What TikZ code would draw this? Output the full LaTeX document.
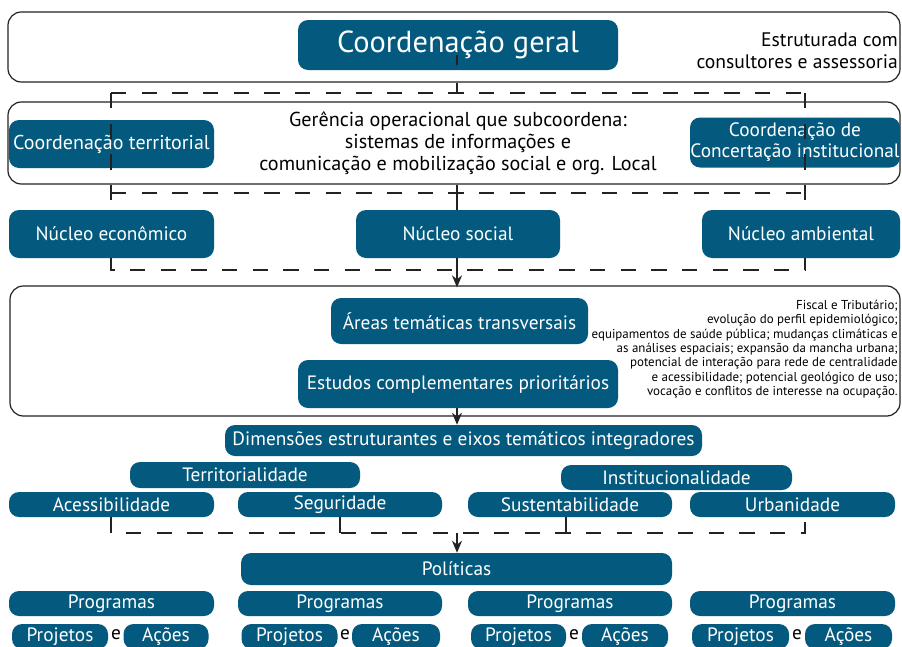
\documentclass[tikz,border=0pt]{standalone}
\usepackage{fontspec}
\setmainfont{PT Sans}
\usetikzlibrary{arrows.meta}
\definecolor{nodeblue}{HTML}{035A7E}
\definecolor{lineink}{HTML}{222222}
\begin{document}
\begin{tikzpicture}[x=0.75pt,y=-0.75pt,
  bx/.style={fill=nodeblue, rounded corners=7.5pt, text=white, inner sep=0pt, align=center, font=\fontsize{14.5}{15.75}\selectfont},
  wh/.style 2 args={minimum width=#1*0.75pt, minimum height=#2*0.75pt},
  frame/.style={draw=lineink, line width=0.9pt, rounded corners=10pt, inner sep=0pt},
  dsh/.style={draw=lineink, line width=1.9pt, dash pattern=on 11.5pt off 11.5pt},
  solidln/.style={draw=lineink, line width=1.9pt},
  arr/.style={draw=lineink, line width=1.3pt, -{Stealth[length=9pt,width=7.5pt]}},
  plain/.style={inner sep=0pt, align=right, text=black}]
\useasboundingbox (0,0) rectangle (902,646);
\fill[white] (0,0) rectangle (902,646);
% frames
\node[frame, wh={892}{70}] (f1) at (454,47) {};
\node[frame, wh={892}{82}] (f2) at (454,143) {};
\node[frame, wh={890}{130}] (f3) at (455,351) {};
% top
\node[bx, wh={320}{50}, font=\fontsize{22.8}{24}\selectfont] (cg) at (458,45) {Coordenação geral};
\node[plain, anchor=east, font=\fontsize{14.7}{16.5}\selectfont] (est) at (898,51) {Estruturada com\\consultores e assessoria};
% second
\node[bx, wh={205}{48}, font=\fontsize{15}{16}\selectfont] (ct) at (111.5,144) {Coordenação territorial};
\node[plain, align=center, font=\fontsize{15.1}{16.5}\selectfont] (ger) at (458,143) {Gerência operacional que subcoordena:\\sistemas de informações e\\comunicação e mobilização social e org. Local};
\node[bx, wh={210}{50}] (cci) at (795,142.5) {Coordenação de\\Concertação institucional};
% nucleus
\node[bx, wh={205}{48}] (ne) at (111.5,234) {Núcleo econômico};
\node[bx, wh={204}{48}] (ns) at (458,234) {Núcleo social};
\node[bx, wh={198}{48}] (na) at (801,234) {Núcleo ambiental};
% third
\node[bx, wh={257}{46}] (atr) at (459.5,321) {Áreas temáticas transversais};
\node[bx, wh={320}{48}] (ecp) at (458,384) {Estudos complementares prioritários};
\node[plain, anchor=north east, font=\fontsize{9.7}{10.75}\selectfont] (small) at (898,300) {Fiscal e Tributário;\\evolução do perfil epidemiológico;\\equipamentos de saúde pública; mudanças climáticas e\\as análises espaciais; expansão da mancha urbana;\\potencial de interação para rede de centralidade\\e acessibilidade; potencial geológico de uso;\\vocação e conflitos de interesse na ocupação.};
% dimensions
\node[bx, wh={477}{31}] (dim) at (463.5,440.5) {Dimensões estruturantes e eixos temáticos integradores};
\node[bx, wh={230}{26}] (ter) at (245,475) {Territorialidade};
\node[bx, wh={231}{25}] (ins) at (676.5,477.5) {Institucionalidade};
\node[bx, wh={205}{25}] (ace) at (111.5,504.5) {Acessibilidade};
\node[bx, wh={204}{25}] (seg) at (340,504.5) {Seguridade};
\node[bx, wh={204}{25}] (sus) at (570,504.5) {Sustentabilidade};
\node[bx, wh={205}{25}] (urb) at (792.5,504.5) {Urbanidade};
% policies
\node[bx, wh={431}{32}] (pol) at (456.5,569) {Políticas};
\node[bx, wh={205}{25}] (pg1) at (111.5,603.5) {Programas};
\node[bx, wh={204}{25}] (pg2) at (340,603.5) {Programas};
\node[bx, wh={204}{25}] (pg3) at (570,603.5) {Programas};
\node[bx, wh={205}{25}] (pg4) at (792.5,603.5) {Programas};
\node[bx, wh={96}{25}] (pj1) at (60,636.5) {Projetos};
\node[plain, font=\fontsize{14.5}{15}\selectfont] (e1) at (116,635) {e};
\node[bx, wh={85}{25}] (ac1) at (166,636.5) {Ações};
\node[bx, wh={96}{25}] (pj2) at (289.5,636.5) {Projetos};
\node[plain, font=\fontsize{14.5}{15}\selectfont] (e2) at (345,635) {e};
\node[bx, wh={88}{25}] (ac2) at (396,636.5) {Ações};
\node[bx, wh={95}{25}] (pj3) at (518.5,636.5) {Projetos};
\node[plain, font=\fontsize{14.5}{15}\selectfont] (e3) at (574,635) {e};
\node[bx, wh={86}{25}] (ac3) at (625,636.5) {Ações};
\node[bx, wh={97}{25}] (pj4) at (740.5,636.5) {Projetos};
\node[plain, font=\fontsize{14.5}{15}\selectfont] (e4) at (797,635) {e};
\node[bx, wh={87}{25}] (ac4) at (848.5,636.5) {Ações};
% dashed structure, upper
\coordinate (tl) at (111,93);
\coordinate (tr) at (805,93);
\coordinate (ml) at (111,193);
\coordinate (mr) at (805,193);
\coordinate (bl) at (111,270);
\coordinate (br) at (805,270);
\coordinate (cx) at (457,0);
\draw[dsh] (tl) -- (tr);
\draw[dsh] (ml) -- (mr);
\draw[dsh] (tl) -- (ne.north -| tl);
\draw[dsh] (tr) -- (na.north -| tr);
\draw[lineink, line width=1.9pt, dash pattern=on 7.5pt off 13.5pt] (cx |- tl) -- (cx |- cg.center);
\draw[solidln] (cx |- f2.south) -- (cx |- ns.north);
\draw[dsh] (ne.south -| bl) -- (bl) -- (br) -- (na.south -| br);
\draw[solidln] (cx |- ns.south) -- (cx |- bl);
\draw[arr] (cx |- bl) -- ([yshift=-1.5pt]cx |- f3.north);
% lower
\draw[lineink, line width=1.9pt, dash pattern=on 6pt off 3pt] (cx |- ecp.south) -- (cx |- f3.south);
\draw[arr] (cx |- f3.south) -- (cx |- dim.north);
\coordinate (dl) at (111,533);
\coordinate (dr) at (805,533);
\coordinate (sx) at (566,533);
\draw[dsh] (ace.south -| dl) -- (dl) -- (dr) -- (urb.south -| dr);
\draw[dsh] (seg.south) -- (seg.south |- dl);
\draw[dsh] (sx |- sus.south) -- (sx);
\draw[arr] (cx |- dl) -- (cx |- pol.north);
\end{tikzpicture}
\end{document}
